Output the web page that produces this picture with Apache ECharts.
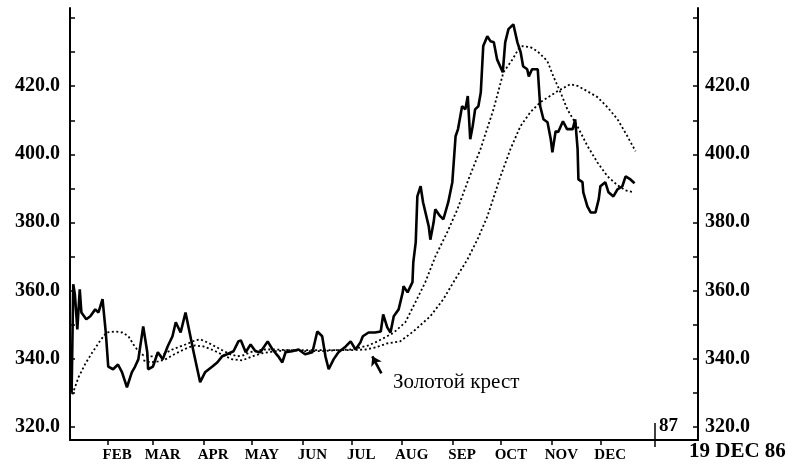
<!DOCTYPE html>
<html>
<head>
<meta charset="utf-8">
<script src="https://cdn.jsdelivr.net/npm/echarts@6/dist/echarts.min.js"></script>
<style>
  html, body { margin: 0; padding: 0; background: #fff; }
  #chart_box { width: 791px; height: 468px; }
</style>
</head>
<body>
<div id="chart_box"></div>
<script>
// x = day of 1986 (0 = 1 Jan), y = price
var price = [
  [9,330.0],[10,361.8],[11,358.8],[12.5,348.5],[14,360.3],[15,353.5],[18,351.5],[20.5,352.4],[23.5,354.4],[25.5,353.5],
  [28,357.4],[30,347.6],[31.5,337.6],[34.5,336.8],[37.5,338.2],[40,335.9],[43,331.5],[46,335.9],[48,337.6],[50,339.7],
  [53,349.4],[55.5,341.8],[56,336.8],[59,337.6],[62,341.8],[65,339.7],[68,343.5],[71,346.5],[73,350.6],[76,347.6],
  [79,353.5],[82,346.5],[84,341.8],[88,333.0],[91,335.9],[95.5,337.6],[98.5,338.8],[101.5,340.6],[104.5,341.2],[108.5,342.1],
  [111.5,345.0],[113,345.3],[116,341.8],[119,344.1],[122,342.1],[125,341.8],[129.5,345.0],[132.5,342.6],[136,340.6],[138.5,338.8],
  [140.5,341.8],[144.5,342.1],[148.5,342.6],[152.5,341.2],[157,341.8],[160,347.9],[163,346.5],[165,340.6],[167,336.8],[170,339.7],
  [173,341.8],[177.5,343.5],[180.5,345.0],[183.5,342.6],[186.5,344.7],[188,346.5],[191.5,347.6],[195.5,347.6],[199,347.9],[200.5,352.9],
  [203,349.1],[205,347.6],[207,352.4],[210,354.4],[212.5,359.4],[213,361.2],[215.5,359.4],[218.5,362.4],[219,368.2],[220.5,374.1],
  [221.5,387.6],[223.5,390.6],[225,385.9],[228.5,378.8],[229.5,374.9],[231.5,380.0],[232.5,383.8],[235.5,381.8],[237.5,380.9],[240.5,385.9],
  [243,391.8],[245,405.3],[246.5,407.4],[249,414.1],[251,413.2],[252.5,417.1],[254,404.4],[255.5,408.2],[257,413.2],[259,414.1],
  [260.5,418.2],[262,431.8],[264.5,434.7],[266.5,433.2],[268.5,432.9],[270.5,427.9],[274,424.1],[275.5,432.9],[277.5,436.8],[280.5,438.2],
  [283,432.9],[285,430.0],[286.5,425.9],[289,425.0],[290,422.9],[292,425.0],[295.5,425.0],[297,414.1],[299,410.3],[301.5,409.4],
  [303.5,404.4],[304.5,400.6],[306.5,406.8],[308,406.5],[311,409.7],[313.5,407.4],[317,407.4],[318.5,410.3],[320,401.5],[320.5,392.6],
  [323,391.8],[323.5,388.8],[326,384.7],[328,382.9],[331,382.9],[333,386.8],[334,390.6],[337,391.8],[339,388.8],[342,387.6],
  [344.5,389.7],[347.5,390.6],[349.5,393.5],[352.5,392.6],[355,391.5]
];
// short moving average
var maShort = [
  [9.5,329.4],[13.2,334.4],[17.5,338.5],[21.8,341.8],[26.7,345.3],[30.4,347.6],[35.9,347.9],[40.2,347.6],[43.9,346.5],[47,344.1],
  [50,342.1],[53.1,340.9],[57.4,340.6],[62.3,340.6],[66.6,341.5],[70.9,342.6],[75.8,343.5],[80.7,344.4],[85,345.3],[88.1,345.6],
  [92.4,344.7],[97.3,343.5],[101.6,342.4],[106.5,341.2],[110.9,340.6],[114.5,340.9],[118.9,341.8],[123.8,342.4],[128.1,342.6],[134.2,342.6],
  [143.4,342.4],[152.7,342.1],[161.9,342.1],[171.1,342.4],[180.3,342.6],[186.5,343.2],[191.4,343.8],[195.7,344.7],[201.8,346.2],[206.8,347.5],
  [214.1,350.6],[220.3,356.5],[226.4,362.4],[232.6,370.0],[239.9,377.1],[246.1,383.8],[252.9,392.6],[260.3,401.5],[268.3,413.2],[274.4,424.1],
  [280,427.9],[283.6,430.9],[286.1,431.8],[291,431.5],[295.3,430.3],[301.4,427.4],[305.1,422.9],[309.5,418.2],[313.7,413.2],[319.9,408.2],
  [326.1,402.4],[332.2,397.6],[338.4,393.5],[344.5,390.9],[349.4,389.4],[354.4,388.8]
];
// long moving average
var maLong = [
  [53.1,339.4],[57.4,338.8],[62.3,339.1],[66.6,339.7],[70.9,340.9],[75.8,342.1],[80.7,343.2],[85,343.8],[90,343.5],[96.1,342.4],
  [102.3,340.9],[107.8,339.7],[113.9,339.4],[120,340.6],[126.1,341.5],[134.2,342.1],[143.4,342.4],[155.7,342.4],[168,342.4],[180.3,342.4],
  [189.5,342.6],[195.7,343.2],[203,344.4],[211,345.0],[219,347.9],[229.5,352.4],[237.5,357.4],[243.7,362.4],[252.3,369.1],[258.5,375.0],
  [264.6,381.8],[272.6,393.5],[278.7,401.5],[284.8,408.2],[291,412.4],[297.1,415.3],[307.5,418.5],[315.5,420.6],[320.5,420.0],[326.1,418.5],
  [332.2,416.8],[338.4,413.8],[344.5,410.3],[350.6,405.3],[355.6,400.9]
];
var months = ["FEB", "MAR", "APR", "MAY", "JUN", "JUL", "AUG", "SEP", "OCT", "NOV", "DEC"];
var monthStarts = [31, 59, 90, 120, 151, 181, 212, 243, 273, 304, 334];
var yTicks = [320, 330, 340, 350, 360, 370, 380, 390, 400, 410, 420, 430, 440];
var yLabels = [320, 340, 360, 380, 400, 420];
var crossFrom = [199.4, 335.6]; // text end of the arrow
var crossTo = [193.8, 340.6];   // golden cross point

var serif = "Liberation Serif";
var labelDays = monthStarts.map(function (d) { return d + 6; });

function yAxisCfg(pos) {
  return {
    type: "value",
    position: pos,
    min: 316,
    max: 443,
    splitLine: { show: false },
    axisLine: { show: true, lineStyle: { color: "#000", width: 2 } },
    axisTick: { show: true, inside: true, length: 5, customValues: yTicks, lineStyle: { color: "#000", width: 1.5 } },
    axisLabel: {
      customValues: yLabels,
      margin: pos === "left" ? 10 : 7,
      color: "#000",
      fontFamily: serif,
      fontWeight: "bold",
      fontSize: 20,
      formatter: function (v) { return v.toFixed(1); }
    }
  };
}

var myecharts = echarts.init(document.getElementById("chart_box"));
var option = {
  backgroundColor: "#fff",
  animation: false,
  grid: { left: 70, right: 93, top: 8, bottom: 28, containLabel: false },
  xAxis: {
    type: "value",
    min: 8,
    max: 394,
    splitLine: { show: false },
    axisLine: { show: true, onZero: false, lineStyle: { color: "#000", width: 2 } },
    axisTick: { show: true, length: 5, customValues: monthStarts, lineStyle: { color: "#000", width: 1.5 } },
    axisLabel: {
      customValues: labelDays,
      margin: 8,
      color: "#000",
      fontFamily: serif,
      fontWeight: "bold",
      fontSize: 15,
      formatter: function (v) {
        var i = labelDays.indexOf(v);
        return i >= 0 ? months[i] : "";
      }
    }
  },
  yAxis: [yAxisCfg("left"), yAxisCfg("right")],
  series: [
    {
      name: "long",
      type: "line",
      data: maLong,
      symbol: "none",
      lineStyle: { color: "#000", width: 1.8, type: [2, 2.5] }
    },
    {
      name: "short",
      type: "line",
      data: maShort,
      symbol: "none",
      lineStyle: { color: "#000", width: 1.8, type: [2, 2.5] }
    },
    {
      name: "price",
      type: "line",
      data: price,
      symbol: "none",
      lineStyle: { color: "#000", width: 2.6 },
      markLine: {
        silent: true,
        symbol: ["none", "arrow"],
        symbolSize: 9,
        label: { show: false },
        lineStyle: { color: "#000", width: 2.6, type: "solid" },
        data: [[{ coord: crossFrom }, { coord: crossTo }]]
      }
    }
  ],
  graphic: [
    {
      type: "text",
      left: 393,
      top: 372,
      style: { text: "Золотой крест", fontFamily: serif, fontSize: 21, fill: "#000" }
    },
    {
      type: "line",
      shape: { x1: 655, y1: 423, x2: 655, y2: 447 },
      style: { stroke: "#000", lineWidth: 1.5 }
    },
    {
      type: "text",
      left: 659,
      top: 417,
      style: { text: "87", fontFamily: serif, fontWeight: "bold", fontSize: 19, fill: "#000" }
    },
    {
      type: "text",
      left: 689,
      top: 441,
      style: { text: "19 DEC 86", fontFamily: serif, fontWeight: "bold", fontSize: 21, fill: "#000" }
    }
  ]
};
myecharts.setOption(option);
</script>
</body>
</html>
